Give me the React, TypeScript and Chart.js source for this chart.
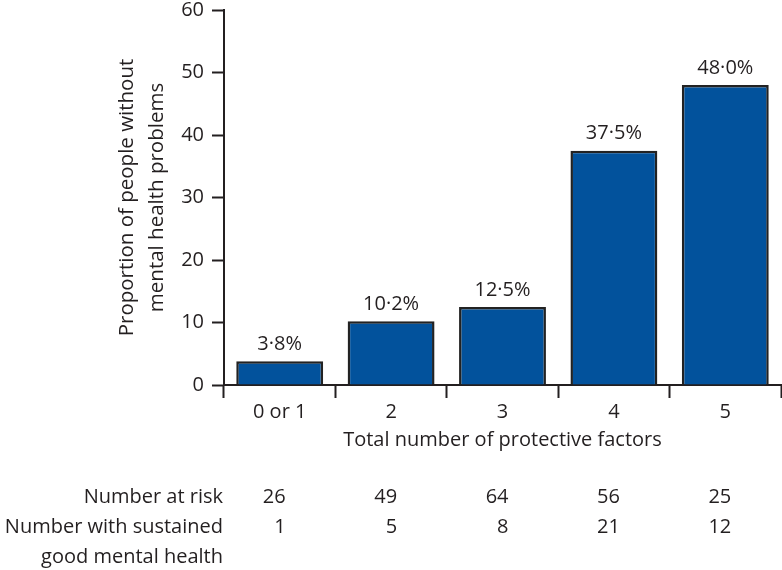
import React, { useEffect, useRef } from 'react';
import { Chart, registerables } from 'chart.js';

Chart.register(...registerables);

const categories = ['0 or 1', '2', '3', '4', '5'];
const proportions = [3.8, 10.2, 12.5, 37.5, 48.0];
const numberAtRisk = [26, 49, 64, 56, 25];
const numberSustained = [1, 5, 8, 21, 12];
const yMin = 0;
const yMax = 60;
const yStep = 10;
const yTitleLines = ['Proportion of people without', 'mental health problems'];
const xTitle = 'Total number of protective factors';
const rowLabels = ['Number at risk', 'Number with sustained', 'good mental health'];

const FONT = '"Open Sans", sans-serif';
const TEXT = '#231f20';
const BAR = '#02529c';
const BAR_BORDER = '#222222';

const fmt = (v: number) => v.toFixed(1).replace('.', '\u00B7') + '%';

const annotations = {
  id: 'annotations',
  afterDatasetsDraw(chart: any) {
    const ctx = chart.ctx as CanvasRenderingContext2D;
    const meta = chart.getDatasetMeta(0);
    const xs = chart.scales.x;
    const area = chart.chartArea;
    ctx.save();
    ctx.fillStyle = TEXT;
    ctx.font = `20px ${FONT}`;
    ctx.textAlign = 'center';
    ctx.textBaseline = 'middle';
    meta.data.forEach((bar: any, i: number) => {
      ctx.fillText(fmt(proportions[i]), bar.x, bar.y - 17);
    });

    // x title
    ctx.fillText(xTitle, (area.left + area.right) / 2, 440);

    // y title
    ctx.font = `20.5px ${FONT}`;
    const cy = (area.top + area.bottom) / 2;
    const lineX = [127, 157];
    yTitleLines.forEach((line, i) => {
      ctx.save();
      ctx.translate(lineX[i], cy);
      ctx.rotate(-Math.PI / 2);
      ctx.fillText(line, 0, 0);
      ctx.restore();
    });

    // table
    ctx.font = `20px ${FONT}`;
    const rowY = [497, 527, 557];
    ctx.textAlign = 'right';
    rowLabels.forEach((l, i) => ctx.fillText(l, 223, rowY[i]));
    categories.forEach((_, i) => {
      const x = xs.getPixelForValue(i) + 6;
      ctx.fillText(String(numberAtRisk[i]), x, rowY[0]);
      ctx.fillText(String(numberSustained[i]), x, rowY[1]);
    });
    ctx.restore();
  },
};

export default function App() {
  const ref = useRef<HTMLCanvasElement | null>(null);
  useEffect(() => {
    if (!ref.current) return;
    const chart = new Chart(ref.current, {
      type: 'bar',
      data: {
        labels: categories,
        datasets: [
          {
            data: proportions,
            backgroundColor: BAR,
            borderColor: BAR_BORDER,
            borderWidth: 2.5,
            barPercentage: 0.78,
            categoryPercentage: 1,
          },
        ],
      },
      options: {
        animation: false,
        responsive: false,
        devicePixelRatio: 1,
        layout: { padding: { top: 10, right: 1, left: 0, bottom: 0 } },
        plugins: {
          legend: { display: false },
          tooltip: { enabled: false },
        },
        scales: {
          x: {
            afterFit: (s: any) => {
              s.height = 185;
              s.paddingLeft = 0;
              s.paddingRight = 0;
            },
            grid: {
              offset: true,
              drawOnChartArea: false,
              drawTicks: true,
              tickLength: 13,
              tickWidth: 2,
              tickColor: TEXT,
            },
            border: { display: true, color: TEXT, width: 2 },
            ticks: {
              color: TEXT,
              font: { family: FONT, size: 20 },
              padding: 2,
            },
          },
          y: {
            min: yMin,
            max: yMax,
            afterFit: (s: any) => {
              s.width = 224;
              s.paddingTop = 0;
              s.paddingBottom = 0;
            },
            grid: {
              drawOnChartArea: false,
              drawTicks: true,
              tickLength: 12,
              tickWidth: 2,
              tickColor: TEXT,
            },
            border: { display: true, color: TEXT, width: 2 },
            ticks: {
              stepSize: yStep,
              color: TEXT,
              font: { family: FONT, size: 20 },
              padding: 8,
            },
          },
        },
      },
      plugins: [annotations],
    });
    return () => chart.destroy();
  }, []);
  return (
    <div style={{ position: 'absolute', left: 0, top: 0, width: 782, height: 570, background: '#fff' }}>
      <canvas ref={ref} width={782} height={570} />
    </div>
  );
}
